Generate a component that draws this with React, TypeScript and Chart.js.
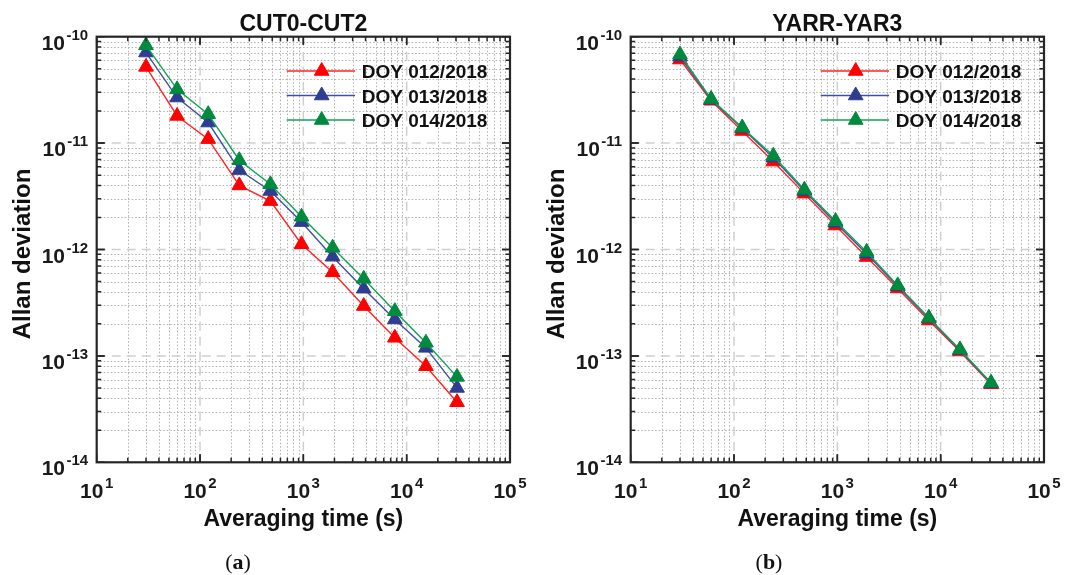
import React, { useEffect, useRef } from 'react';
import { Chart, registerables } from 'chart.js';

Chart.register(...registerables);

// ---------- data ----------
const TAU = [30, 60, 120, 240, 480, 960, 1920, 3840, 7680, 15360, 30720];

const CUT_DOY012 = [5.2e-11, 1.8e-11, 1.09e-11, 4.0e-12, 2.85e-12, 1.12e-12, 6.1e-13, 2.94e-13, 1.48e-13, 8.0e-14, 3.67e-14];
const CUT_DOY013 = [7.1e-11, 2.68e-11, 1.56e-11, 5.58e-12, 3.55e-12, 1.81e-12, 8.55e-13, 4.28e-13, 2.2e-13, 1.19e-13, 5.0e-14];
const CUT_DOY014 = [8.3e-11, 3.2e-11, 1.87e-11, 6.9e-12, 4.1e-12, 2.03e-12, 1.04e-12, 5.3e-13, 2.63e-13, 1.33e-13, 6.35e-14];

const YAR_DOY012 = [6.1e-11, 2.5e-11, 1.3e-11, 6.7e-12, 3.35e-12, 1.68e-12, 8.5e-13, 4.3e-13, 2.15e-13, 1.1e-13, 5.4e-14];
const YAR_DOY013 = [6.5e-11, 2.55e-11, 1.38e-11, 7.3e-12, 3.55e-12, 1.78e-12, 9.1e-13, 4.5e-13, 2.25e-13, 1.13e-13, 5.5e-14];
const YAR_DOY014 = [6.8e-11, 2.6e-11, 1.4e-11, 7.6e-12, 3.65e-12, 1.85e-12, 9.5e-13, 4.6e-13, 2.28e-13, 1.15e-13, 5.6e-14];

const SERIES_LABELS = ['DOY 012/2018', 'DOY 013/2018', 'DOY 014/2018'];
const MARKER_COLORS = ['#ff0000', '#2e3d8f', '#008a3e'];
const LINE_COLORS = ['#ff2424', '#3f50a2', '#12a055'];

const X_TICK_VALUES = [1e1, 1e2, 1e3, 1e4, 1e5];
const X_TICK_EXPONENTS = ['1', '2', '3', '4', '5'];
const Y_TICK_VALUES = [1e-14, 1e-13, 1e-12, 1e-11, 1e-10];
const Y_TICK_EXPONENTS = ['-14', '-13', '-12', '-11', '-10'];

const X_TITLE = 'Averaging time (s)';
const Y_TITLE = 'Allan deviation';

const SANS = '"Liberation Sans", Arial, sans-serif';
const SERIF = '"Liberation Serif", "Times New Roman", serif';

// ---------- custom MATLAB-like axes plugin ----------
const matlabAxes = {
  id: 'matlabAxes',
  beforeDatasetsDraw(chart: any) {
    const { ctx, chartArea, scales } = chart;
    const { left, top, right, bottom } = chartArea;
    const xs = scales.x;
    const ys = scales.y;
    ctx.save();
    ctx.beginPath();
    ctx.rect(left, top, right - left, bottom - top);
    ctx.clip();
    // minor dotted grid
    ctx.strokeStyle = '#b0b0b0';
    ctx.lineWidth = 1;
    ctx.setLineDash([1.5, 2]);
    for (let e = 1; e <= 4; e++) {
      for (let k = 2; k <= 9; k++) {
        const px = Math.round(xs.getPixelForValue(k * Math.pow(10, e))) + 0.5;
        ctx.beginPath();
        ctx.moveTo(px, top);
        ctx.lineTo(px, bottom);
        ctx.stroke();
      }
    }
    for (let e = -14; e <= -11; e++) {
      for (let k = 2; k <= 9; k++) {
        const py = Math.round(ys.getPixelForValue(k * Math.pow(10, e))) + 0.5;
        ctx.beginPath();
        ctx.moveTo(left, py);
        ctx.lineTo(right, py);
        ctx.stroke();
      }
    }
    // major dashed grid
    ctx.strokeStyle = '#cfcfcf';
    ctx.lineWidth = 1.5;
    ctx.setLineDash([9, 6]);
    X_TICK_VALUES.slice(1, -1).forEach((v) => {
      const px = xs.getPixelForValue(v);
      ctx.beginPath();
      ctx.moveTo(px, top);
      ctx.lineTo(px, bottom);
      ctx.stroke();
    });
    Y_TICK_VALUES.slice(1, -1).forEach((v) => {
      const py = ys.getPixelForValue(v);
      ctx.beginPath();
      ctx.moveTo(left, py);
      ctx.lineTo(right, py);
      ctx.stroke();
    });
    ctx.restore();
  },
  afterDatasetsDraw(chart: any, _args: any, opts: any) {
    const { ctx, chartArea, scales } = chart;
    const { left, top, right, bottom } = chartArea;
    const xs = scales.x;
    const ys = scales.y;
    ctx.save();
    ctx.setLineDash([]);
    // tick marks (inward, all four sides)
    ctx.strokeStyle = '#262626';
    ctx.lineWidth = 1.5;
    for (let e = 1; e <= 4; e++) {
      for (let k = 1; k <= 10; k++) {
        const v = k * Math.pow(10, e);
        const len = k === 1 || k === 10 ? 8 : 4.5;
        const px = xs.getPixelForValue(v);
        ctx.beginPath();
        ctx.moveTo(px, bottom);
        ctx.lineTo(px, bottom - len);
        ctx.moveTo(px, top);
        ctx.lineTo(px, top + len);
        ctx.stroke();
      }
    }
    for (let e = -14; e <= -11; e++) {
      for (let k = 1; k <= 10; k++) {
        const v = k * Math.pow(10, e);
        const len = k === 1 || k === 10 ? 8 : 4.5;
        const py = ys.getPixelForValue(v);
        ctx.beginPath();
        ctx.moveTo(left, py);
        ctx.lineTo(left + len, py);
        ctx.moveTo(right, py);
        ctx.lineTo(right - len, py);
        ctx.stroke();
      }
    }
    // box
    ctx.lineWidth = 2.2;
    ctx.strokeRect(left, top, right - left, bottom - top);

    // tick labels
    const baseFont = `bold 21px ${SANS}`;
    const expFont = `bold 15px ${SANS}`;
    ctx.fillStyle = '#1a1a1a';
    ctx.textAlign = 'left';
    ctx.textBaseline = 'alphabetic';
    Y_TICK_VALUES.forEach((v, i) => {
      const py = ys.getPixelForValue(v);
      const exp = Y_TICK_EXPONENTS[i];
      ctx.font = expFont;
      const we = ctx.measureText(exp).width;
      ctx.font = baseFont;
      const wb = ctx.measureText('10').width;
      const xr = left - 8.5;
      ctx.font = expFont;
      ctx.fillText(exp, xr - we, py + 3);
      ctx.font = baseFont;
      ctx.fillText('10', xr - we - 1.5 - wb, py + 13);
    });
    X_TICK_VALUES.forEach((v, i) => {
      const px = xs.getPixelForValue(v);
      const exp = X_TICK_EXPONENTS[i];
      ctx.font = expFont;
      const we = ctx.measureText(exp).width;
      ctx.font = baseFont;
      const wb = ctx.measureText('10').width;
      const x0 = px - (wb + 1.5 + we) / 2;
      ctx.fillText('10', x0, bottom + 36);
      ctx.font = expFont;
      ctx.fillText(exp, x0 + wb + 1.5, bottom + 26);
    });

    const cx = (left + right) / 2;
    // title
    ctx.fillStyle = '#111';
    ctx.font = `bold 23px ${SANS}`;
    ctx.textAlign = 'center';
    ctx.fillText(opts.title, cx, top - 5.5);
    // x title
    ctx.fillText(X_TITLE, cx, bottom + 64);
    // y title
    ctx.save();
    ctx.translate(left - 66.5, (top + bottom) / 2 + 4.5);
    ctx.rotate(-Math.PI / 2);
    ctx.font = `bold 24px ${SANS}`;
    ctx.fillText(Y_TITLE, 0, 0);
    ctx.restore();

    // legend
    chart.data.datasets.forEach((ds: any, i: number) => {
      const rowY = top + 34.3 + i * 24.5;
      const x1 = right - 223.3;
      const x2 = right - 155;
      const xm = right - 188.3;
      ctx.strokeStyle = ds.borderColor;
      ctx.lineWidth = ds.borderWidth;
      ctx.beginPath();
      ctx.moveTo(x1, rowY);
      ctx.lineTo(x2, rowY);
      ctx.stroke();
      const r = ds.pointRadius;
      ctx.fillStyle = ds.pointBackgroundColor;
      ctx.strokeStyle = ds.pointBorderColor;
      ctx.lineWidth = ds.pointBorderWidth;
      ctx.beginPath();
      ctx.moveTo(xm, rowY - r);
      ctx.lineTo(xm + r * Math.sin((2 * Math.PI) / 3), rowY + r / 2);
      ctx.lineTo(xm - r * Math.sin((2 * Math.PI) / 3), rowY + r / 2);
      ctx.closePath();
      ctx.fill();
      ctx.stroke();
      ctx.fillStyle = '#111';
      ctx.font = `bold 19px ${SANS}`;
      ctx.textAlign = 'left';
      ctx.fillText(ds.label, right - 148.3, rowY + 7);
    });

    // caption "(a)" / "(b)"
    ctx.font = `22px ${SERIF}`;
    const openW = ctx.measureText('(').width;
    ctx.font = `bold 22px ${SERIF}`;
    const letterW = ctx.measureText(opts.caption).width;
    ctx.font = `22px ${SERIF}`;
    const closeW = ctx.measureText(')').width;
    const total = openW + letterW + closeW;
    const capX = opts.captionX - total / 2;
    const capY = 569;
    ctx.textAlign = 'left';
    ctx.fillStyle = '#111';
    ctx.fillText('(', capX, capY);
    ctx.font = `bold 22px ${SERIF}`;
    ctx.fillText(opts.caption, capX + openW, capY);
    ctx.font = `22px ${SERIF}`;
    ctx.fillText(')', capX + openW + letterW, capY);
    ctx.restore();
  },
};

type PanelProps = {
  width: number;
  height: number;
  padding: { left: number; right: number; top: number; bottom: number };
  title: string;
  caption: string;
  captionX: number;
  series: number[][];
};

function Panel({ width, height, padding, title, caption, captionX, series }: PanelProps) {
  const ref = useRef<HTMLCanvasElement | null>(null);
  useEffect(() => {
    if (!ref.current) return;
    const datasets = series.map((vals, i) => ({
      label: SERIES_LABELS[i],
      data: TAU.map((t, j) => ({ x: t, y: vals[j] })),
      borderColor: LINE_COLORS[i],
      borderWidth: 1.4,
      backgroundColor: MARKER_COLORS[i],
      pointStyle: 'triangle',
      pointRadius: 8.5,
      pointBackgroundColor: MARKER_COLORS[i],
      pointBorderColor: MARKER_COLORS[i],
      pointBorderWidth: 1,
      tension: 0,
      order: series.length - 1 - i,
      clip: false,
    }));
    const chart = new Chart(ref.current, {
      type: 'line',
      data: { datasets },
      options: {
        animation: false,
        responsive: false,
        devicePixelRatio: 1,
        layout: { padding, autoPadding: false },
        plugins: {
          legend: { display: false },
          title: { display: false },
          tooltip: { enabled: false },
          matlabAxes: { title, caption, captionX },
        },
        scales: {
          x: { type: 'logarithmic', min: 10, max: 1e5, display: false },
          y: { type: 'logarithmic', min: 1e-14, max: 1e-10, display: false },
        },
      } as any,
      plugins: [matlabAxes as any],
    });
    return () => chart.destroy();
  }, []);
  return (
    <canvas
      ref={ref}
      width={width}
      height={height}
      style={{ display: 'block', width, height }}
    />
  );
}

export default function App() {
  return (
    <div
      style={{
        position: 'fixed',
        left: 0,
        top: 0,
        width: 1075,
        height: 575,
        background: '#ffffff',
        display: 'flex',
      }}
    >
      <Panel
        width={540}
        height={575}
        padding={{ left: 96.7, right: 30, top: 36.7, bottom: 112.7 }}
        title="CUT0-CUT2"
        caption="a"
        captionX={238}
        series={[CUT_DOY012, CUT_DOY013, CUT_DOY014]}
      />
      <Panel
        width={535}
        height={575}
        padding={{ left: 90.7, right: 31, top: 36.7, bottom: 112.7 }}
        title="YARR-YAR3"
        caption="b"
        captionX={229}
        series={[YAR_DOY012, YAR_DOY013, YAR_DOY014]}
      />
    </div>
  );
}
